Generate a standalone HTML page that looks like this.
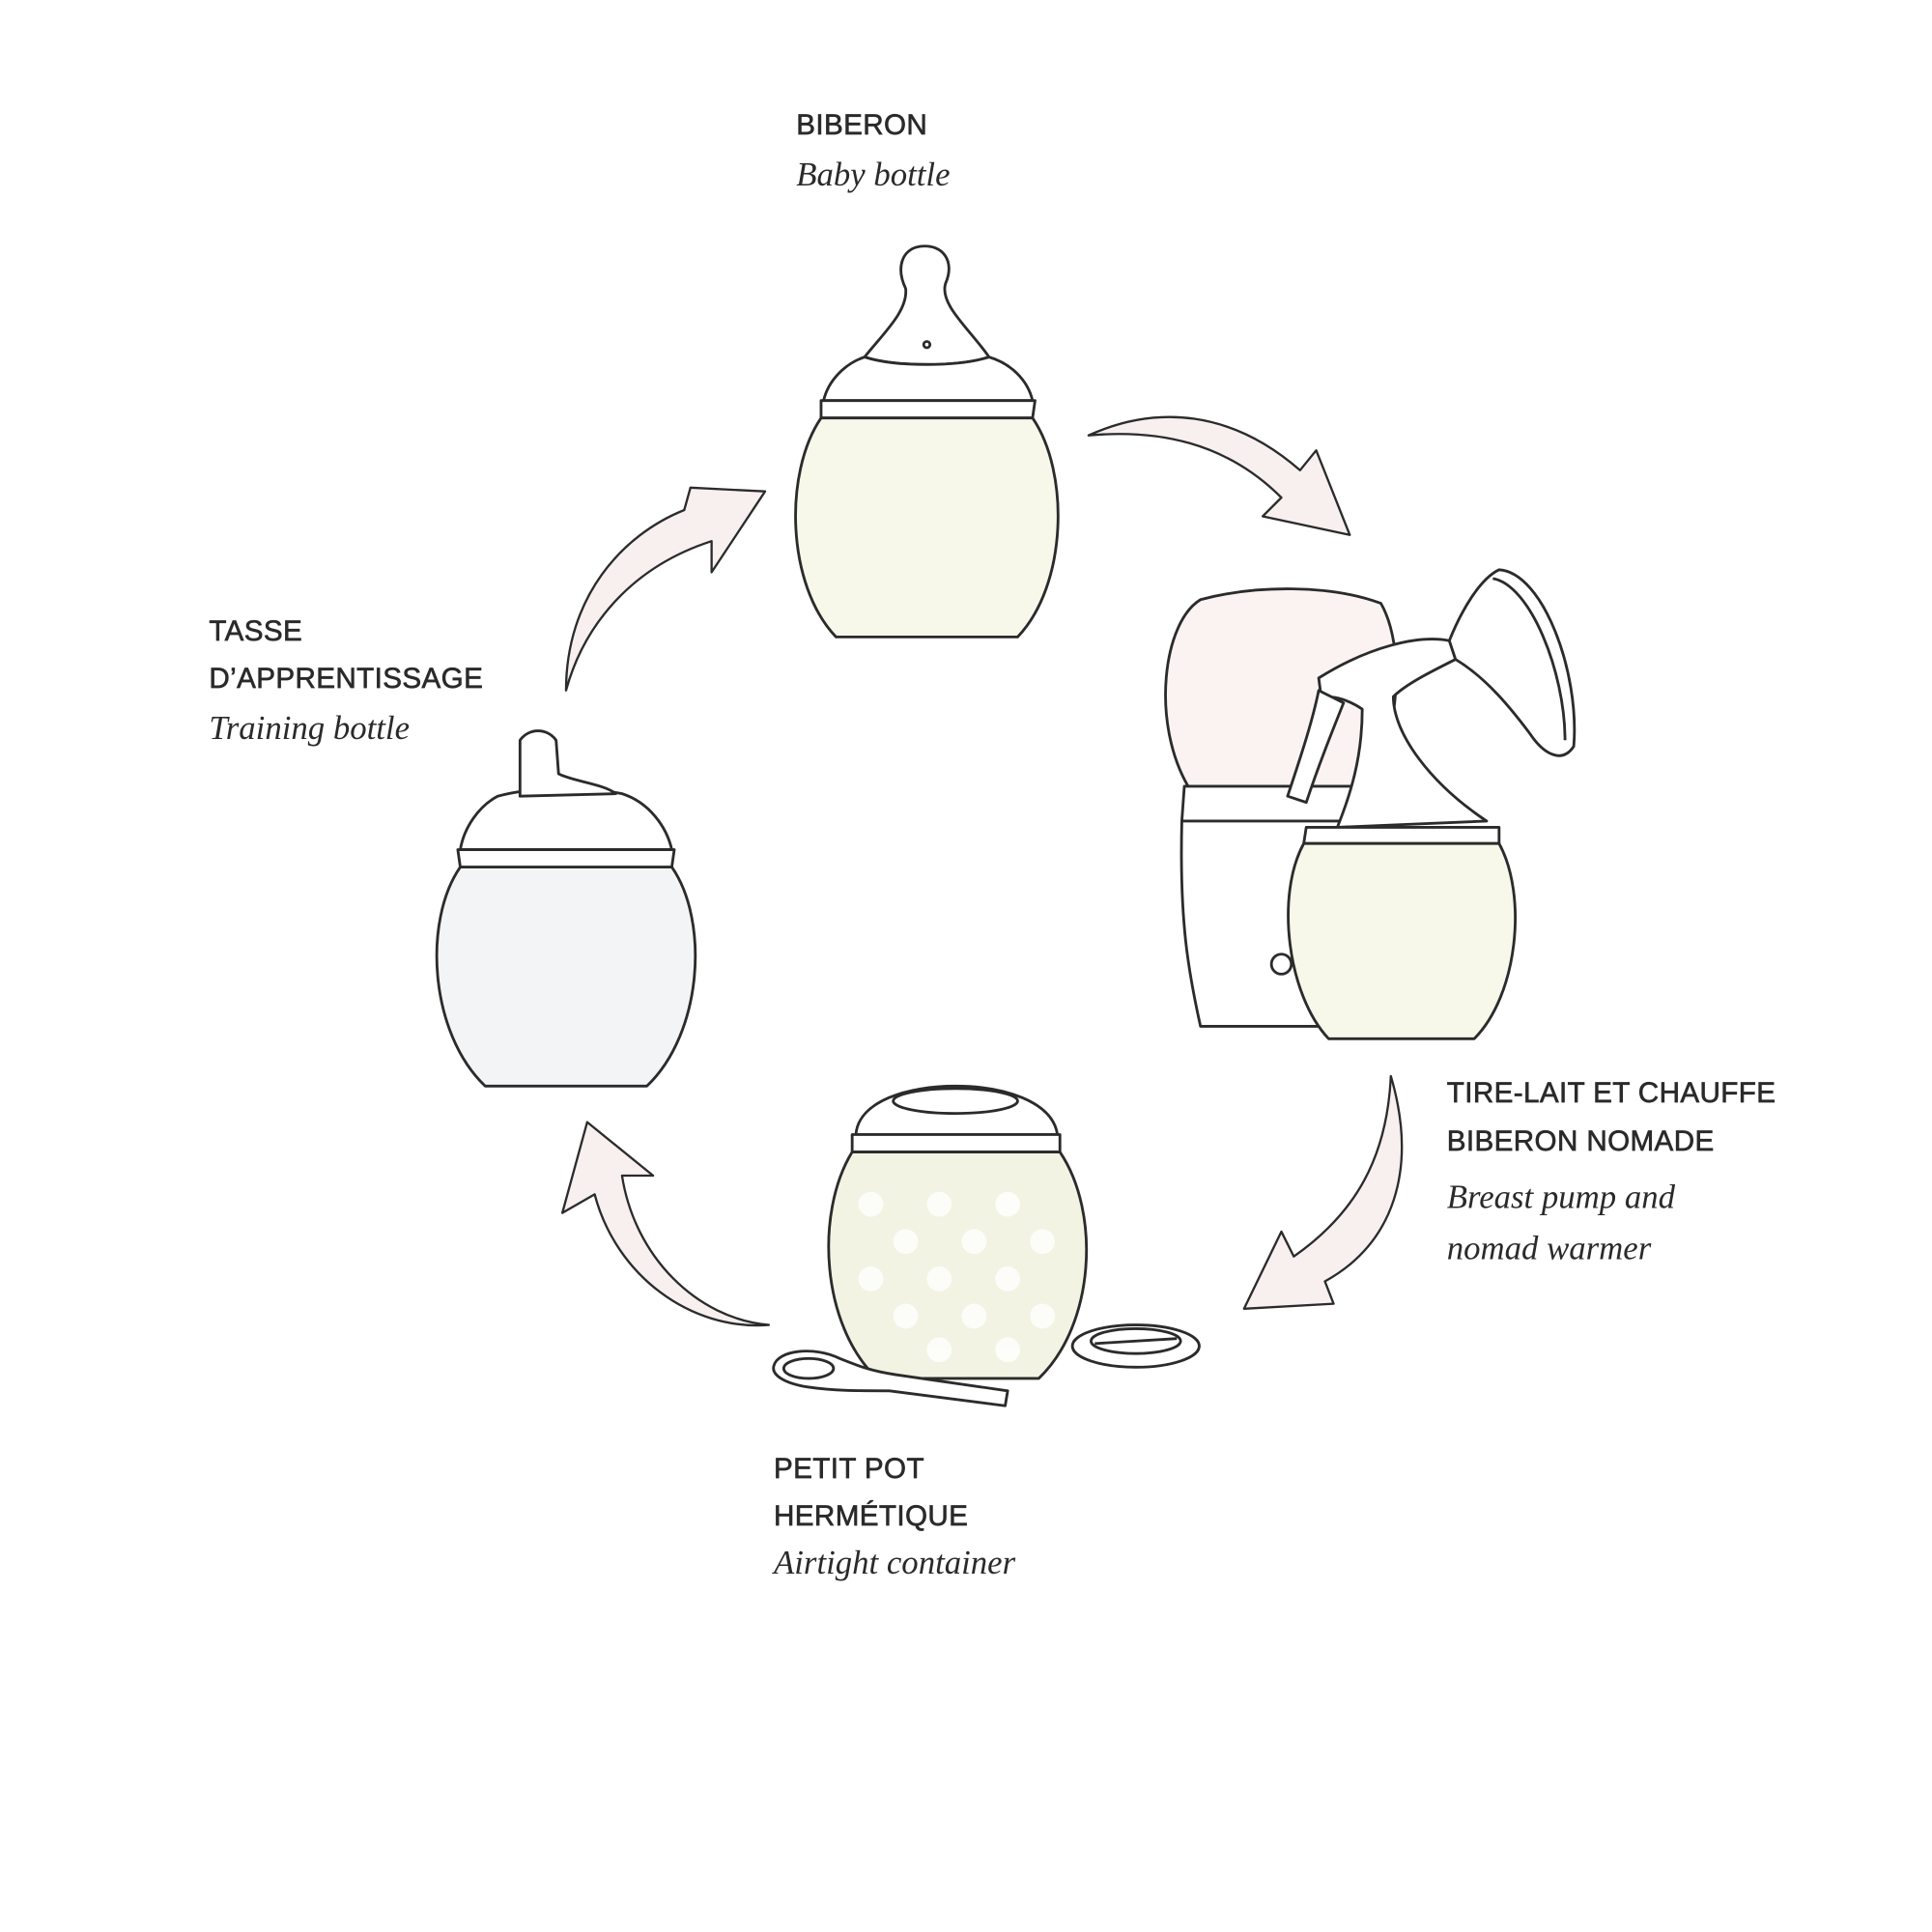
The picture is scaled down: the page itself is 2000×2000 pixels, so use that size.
<!DOCTYPE html>
<html><head><meta charset="utf-8"><style>
html,body{margin:0;padding:0;background:#fff;width:2000px;height:2000px;overflow:hidden}
svg{display:block}
.cap{font-family:"Liberation Sans",sans-serif;font-size:23px;fill:#2a2a2a;stroke:#2a2a2a;stroke-width:0.5;letter-spacing:0.3px}
.it{font-family:"Liberation Serif",serif;font-style:italic;font-size:27px;fill:#2a2a2a}
.ln{stroke:#2b2b2b;stroke-width:2.2;stroke-linejoin:round}
.ar{fill:#f8efef;stroke:#2b2b2b;stroke-width:1.8;stroke-linejoin:round}
</style></head><body>
<svg width="2000" height="2000" viewBox="0 0 1553 1553" xmlns="http://www.w3.org/2000/svg">
<rect width="1553" height="1553" fill="#fff"/>
<text class="cap" x="640" y="108">BIBERON</text>
<text class="it" x="640" y="149">Baby bottle</text>
<text class="cap" x="168" y="515">TASSE</text>
<text class="cap" x="168" y="553">D’APPRENTISSAGE</text>
<text class="it" x="168" y="594">Training bottle</text>
<text class="cap" x="1163" y="886">TIRE-LAIT ET CHAUFFE</text>
<text class="cap" x="1163" y="925">BIBERON NOMADE</text>
<text class="it" x="1163" y="971">Breast pump and</text>
<text class="it" x="1163" y="1012">nomad warmer</text>
<text class="cap" x="622" y="1188">PETIT POT</text>
<text class="cap" x="622" y="1226">HERMÉTIQUE</text>
<text class="it" x="622" y="1265">Airtight container</text>

<!-- Baby bottle -->
<path class="ln" style="fill:#fff" d="M695,287 C710,268 730,250 728,232 C720,215 725,200 740,198 C758,196 768,210 760,228 C755,245 780,265 795,287 C770,295 720,295 695,287 Z"/>
<circle cx="745" cy="277" r="2.5" class="ln" style="fill:none"/>
<path class="ln" style="fill:#fff" d="M695,287 C680,292 666,305 662,322 L830,322 C826,305 812,292 795,287 C770,295 720,295 695,287 Z"/>
<path class="ln" style="fill:#fff" d="M660,322 L832,322 L830,336 L660,336 Z"/>
<path class="ln" style="fill:#f7f7ea" d="M660,336 C630,380 632,470 672,512 L818,512 C858,470 860,380 830,336 Z"/>

<!-- Training bottle -->
<path class="ln" style="fill:#fff" d="M400,640 C385,648 373,665 370,683 L540,683 C536,665 522,645 500,638 C470,632 430,632 400,640 Z"/>
<path class="ln" style="fill:#fff" d="M418,640 L418,595 C425,585 440,585 447,595 L449,622 C460,628 485,630 495,638 Z"/>
<path class="ln" style="fill:#fff" d="M368,683 L542,683 L540,697 L370,697 Z"/>
<path class="ln" style="fill:#f3f4f6" d="M370,697 C340,740 345,830 390,873 L520,873 C565,830 570,740 540,697 Z"/>

<!-- Warmer -->
<path class="ln" style="fill:#fbf3f2" d="M955,632 C925,580 935,500 965,482 C1010,470 1070,470 1110,485 C1130,520 1125,590 1100,632 Z"/>
<path class="ln" style="fill:#fff" d="M952,632 L1100,632 L1100,660 L950,660 Z"/>
<path class="ln" style="fill:#fff" d="M950,660 L1100,660 L1100,825 L965,825 C955,780 948,740 950,660 Z"/>
<circle cx="1030" cy="775" r="8" class="ln" style="fill:#fff"/>
<!-- Pump -->
<path class="ln" style="fill:#fff" d="M1060,545 C1100,520 1140,510 1165,515 L1170,530 C1150,540 1130,550 1120,560 C1120,590 1150,630 1195,660 L1075,665 C1085,640 1095,610 1095,570 C1080,560 1070,560 1062,560 Z"/>
<path class="ln" style="fill:#fff" d="M1060,555 C1055,580 1045,610 1035,640 L1050,645 C1060,615 1070,590 1080,565 Z"/>
<path class="ln" style="fill:#fff" d="M1165,515 C1175,490 1190,465 1205,458 C1240,460 1270,540 1265,600 C1255,615 1240,605 1230,590 C1215,570 1195,545 1170,530 Z"/>
<path class="ln" style="fill:none" d="M1200,465 C1230,470 1258,540 1258,595"/>
<path class="ln" style="fill:#fff" d="M1050,665 L1205,665 L1205,678 L1048,678 Z"/>
<path class="ln" style="fill:#f7f7ea" d="M1048,678 C1025,720 1035,800 1068,835 L1185,835 C1220,800 1228,720 1205,678 Z"/>

<!-- Pot -->
<path class="ln" style="fill:#fff" d="M688,912 C690,885 730,873 768,873 C806,873 846,885 850,912 Z"/>
<ellipse cx="768" cy="885" rx="50" ry="10" class="ln" style="fill:#fff"/>
<path class="ln" style="fill:#fff" d="M685,912 L852,912 L852,926 L685,926 Z"/>
<path class="ln" style="fill:#f3f3e4" d="M685,926 C655,975 660,1065 705,1108 L835,1108 C880,1065 885,975 852,926 Z"/>
<g fill="#fff" opacity="0.8">
<circle cx="700" cy="968" r="10"/><circle cx="755" cy="968" r="10"/><circle cx="810" cy="968" r="10"/>
<circle cx="728" cy="998" r="10"/><circle cx="783" cy="998" r="10"/><circle cx="838" cy="998" r="10"/>
<circle cx="700" cy="1028" r="10"/><circle cx="755" cy="1028" r="10"/><circle cx="810" cy="1028" r="10"/>
<circle cx="728" cy="1058" r="10"/><circle cx="783" cy="1058" r="10"/><circle cx="838" cy="1058" r="10"/>
<circle cx="755" cy="1085" r="10"/><circle cx="810" cy="1085" r="10"/>
</g>
<path class="ln" style="fill:#fff" d="M622,1098 C625,1085 655,1082 675,1092 C690,1098 700,1102 720,1105 L810,1118 L808,1130 L715,1118 C690,1118 670,1118 650,1115 C630,1112 620,1105 622,1098 Z"/>
<ellipse cx="650" cy="1100" rx="20" ry="8" class="ln" style="fill:#fff"/>
<ellipse cx="913" cy="1082" rx="51" ry="17" class="ln" style="fill:#fff"/>
<ellipse cx="913" cy="1078" rx="36" ry="10" class="ln" style="fill:#fff"/>
<path class="ln" style="fill:none" d="M880,1080 L946,1076"/>

<!-- Arrows -->
<path class="ar" d="M875,350 C930,325 990,330 1045,378 L1058,362 L1085,430 L1015,415 L1030,400 C985,355 930,345 875,350 Z"/>
<path class="ar" d="M1118,865 C1140,940 1120,1000 1065,1030 L1072,1048 L1000,1052 L1030,990 L1040,1010 C1090,975 1115,930 1118,865 Z"/>
<path class="ar" d="M618,1065 C560,1060 510,1010 500,945 L525,945 L472,902 L452,975 L478,960 C495,1025 555,1070 618,1065 Z"/>
<path class="ar" d="M455,555 C455,480 500,430 550,410 L555,392 L615,395 L572,460 L572,435 C510,455 470,500 455,555 Z"/>
</svg>
</body></html>
